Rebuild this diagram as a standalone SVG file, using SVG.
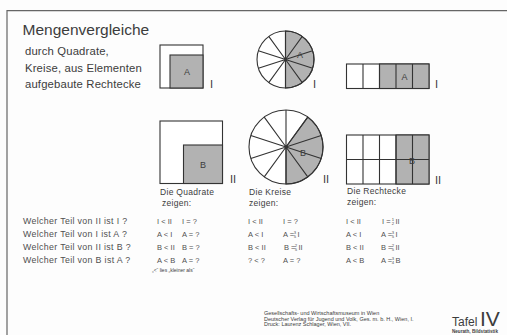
<svg xmlns="http://www.w3.org/2000/svg" width="507" height="335" viewBox="0 0 507 335">
<style>
text{font-family:"Liberation Sans","DejaVu Sans",sans-serif;fill:#3c3c3c}
.frame{stroke:#666;stroke-width:1.2;fill:none}
.ln{stroke:#333;stroke-width:1.1;fill:none}
.box{stroke:#333;stroke-width:1.1;fill:#fff}
.g{fill:#b2b2b2;stroke:#333;stroke-width:1.1}
.title{font-size:15.5px}
.sub{font-size:11.3px;letter-spacing:0.15px}
.lbl{font-size:9px;text-anchor:middle}
.num{font-size:11px}
.cap{font-size:8.5px;letter-spacing:0.3px}
.q{font-size:8.8px;letter-spacing:0.35px;fill:#505050}
.a{font-size:7.5px;fill:#505050}
.fr{font-size:4.2px;text-anchor:middle;fill:#505050}
.foot{font-size:5.5px}
</style>
<rect width="507" height="335" fill="#fdfdfd"/>
<path class="frame" d="M7 335V10.7H507"/>
<g id="title">
<text class="title" x="22.5" y="35">Mengenvergleiche</text>
<text class="sub" x="25" y="55">durch Quadrate,</text>
<text class="sub" x="25" y="72">Kreise, aus  Elementen</text>
<text class="sub" x="25" y="88">aufgebaute Rechtecke</text>
</g>
<g id="square-I">
<rect class="box" x="160" y="45" width="43" height="43"/>
<rect class="g" x="170" y="55" width="33" height="33"/>
<text class="lbl" x="187" y="75">A</text>
<text class="num" x="210" y="88">I</text>
</g>
<g id="circle-I">
<circle cx="285.5" cy="59.5" r="28.5" fill="#fff"/>
<path class="g" d="M285.5 59.5L285.5 31A28.5 28.5 0 0 1 285.5 88Z"/>
<path class="ln" d="M285.5 31V88M285.5 59.5L302.25 36.44M285.5 59.5L312.61 50.69M285.5 59.5L312.61 68.31M285.5 59.5L302.25 82.56M285.5 59.5L268.75 82.56M285.5 59.5L258.39 68.31M285.5 59.5L258.39 50.69M285.5 59.5L268.75 36.44"/>
<circle class="ln" cx="285.5" cy="59.5" r="28.5"/>
<text class="lbl" x="300" y="58">A</text>
<text class="num" x="313" y="88">I</text>
</g>
<g id="rect-I">
<rect class="box" x="346.5" y="64" width="82.5" height="24.5"/>
<rect class="g" x="379.5" y="64" width="49.5" height="24.5"/>
<path class="ln" d="M363 64V88.5M379.5 64V88.5M396 64V88.5M412.5 64V88.5"/>
<text class="lbl" x="404.5" y="80">A</text>
<text class="num" x="435" y="88">I</text>
</g>
<g id="square-II">
<rect class="box" x="160" y="121" width="62.5" height="62.5"/>
<rect class="g" x="183.5" y="145" width="39" height="38.5"/>
<text class="lbl" x="203" y="168">B</text>
<text class="num" x="230" y="183">II</text>
<text class="cap" x="160" y="195">Die Quadrate</text>
<text class="cap" x="162" y="206">zeigen:</text>
</g>
<g id="circle-II">
<circle cx="286" cy="147" r="37" fill="#fff"/>
<path class="g" d="M286 147L307.75 117.07A37 37 0 0 1 286 184Z"/>
<path class="ln" d="M286 110V184M286 147L307.75 117.07M286 147L321.19 135.57M286 147L321.19 158.43M286 147L307.75 176.93M286 147L264.25 176.93M286 147L250.81 158.43M286 147L250.81 135.57M286 147L264.25 117.07"/>
<circle class="ln" cx="286" cy="147" r="37"/>
<text class="lbl" x="303" y="156">B</text>
<text class="num" x="323" y="183">II</text>
<text class="cap" x="249" y="195">Die Kreise</text>
<text class="cap" x="249" y="206">zeigen:</text>
</g>
<g id="rect-II">
<rect class="box" x="346.5" y="135" width="82.5" height="49"/>
<rect class="g" x="396" y="135" width="33" height="49"/>
<path class="ln" d="M363 135V184M379.5 135V184M396 135V184M412.5 135V184M346.5 159.5H429"/>
<text class="lbl" x="412" y="164">B</text>
<text class="num" x="435" y="184">II</text>
<text class="cap" x="347" y="194">Die Rechtecke</text>
<text class="cap" x="347" y="205">zeigen:</text>
</g>
<g id="questions">
<text class="q" x="23" y="224">Welcher Teil von II ist I ?</text>
<text class="q" x="23" y="237">Welcher Teil von I ist A ?</text>
<text class="q" x="23" y="250">Welcher Teil von II ist B ?</text>
<text class="q" x="23" y="263">Welcher Teil von B ist A ?</text>
</g>
<g id="answers-squares">
<text class="a" x="157" y="224">I &lt; II</text>
<text class="a" x="182" y="224">I = ?</text>
<text class="a" x="157" y="237">A &lt; I</text>
<text class="a" x="182" y="237">A = ?</text>
<text class="a" x="157" y="250">B &lt; II</text>
<text class="a" x="182" y="250">B = ?</text>
<text class="a" x="157" y="263">A &lt; B</text>
<text class="a" x="182" y="263">A = ?</text>
<text x="152" y="272" style="font-size:5px">„&lt;“ lies „kleiner als“</text>
</g>
<g id="answers-circles">
<text class="a" x="248" y="224">I &lt; II</text>
<text class="a" x="283" y="224">I =  ?</text>
<text class="a" x="248" y="237">A &lt; I</text>
<text class="a" x="283" y="237">A =</text>
<text class="fr" x="295" y="234">3</text><text class="fr" x="295" y="238">5</text>
<text class="a" x="297.5" y="237">I</text>
<text class="a" x="248" y="250">B &lt; II</text>
<text class="a" x="284" y="250">B =</text>
<text class="fr" x="296" y="247">2</text><text class="fr" x="296" y="251">5</text>
<text class="a" x="298.5" y="250">II</text>
<text class="a" x="248" y="263">? &lt; ?</text>
<text class="a" x="283" y="263">A =  ?</text>
</g>
<g id="answers-rectangles">
<text class="a" x="346" y="224">I &lt; II</text>
<text class="a" x="382" y="224">I =</text>
<text class="fr" x="393" y="221">1</text><text class="fr" x="393" y="225">2</text>
<text class="a" x="395.5" y="224">II</text>
<text class="a" x="346" y="237">A &lt; I</text>
<text class="a" x="381" y="237">A =</text>
<text class="fr" x="393" y="234">3</text><text class="fr" x="393" y="238">5</text>
<text class="a" x="395.5" y="237">I</text>
<text class="a" x="346" y="250">B &lt; II</text>
<text class="a" x="381" y="250">B =</text>
<text class="fr" x="393" y="247">2</text><text class="fr" x="393" y="251">5</text>
<text class="a" x="395.5" y="250">II</text>
<text class="a" x="346" y="263">A &lt; B</text>
<text class="a" x="381" y="263">A =</text>
<text class="fr" x="393" y="260">3</text><text class="fr" x="393" y="264">4</text>
<text class="a" x="395.5" y="263">B</text>
</g>
<g id="imprint">
<text class="foot" x="264" y="315">Gesellschafts- und Wirtschaftsmuseum in Wien</text>
<text class="foot" x="264" y="320.5">Deutscher Verlag für Jugend und Volk, Ges. m. b. H., Wien, I.</text>
<text class="foot" x="264" y="326">Druck: Laurenz Schlager, Wien, VII.</text>
<text x="452" y="326" style="font-size:12px">Tafel</text>
<text x="480" y="326" style="font-size:21px">IV</text>
<text x="452" y="333" style="font-size:4.6px;font-weight:bold">Neurath, Bildstatistik</text>
</g>
</svg>
